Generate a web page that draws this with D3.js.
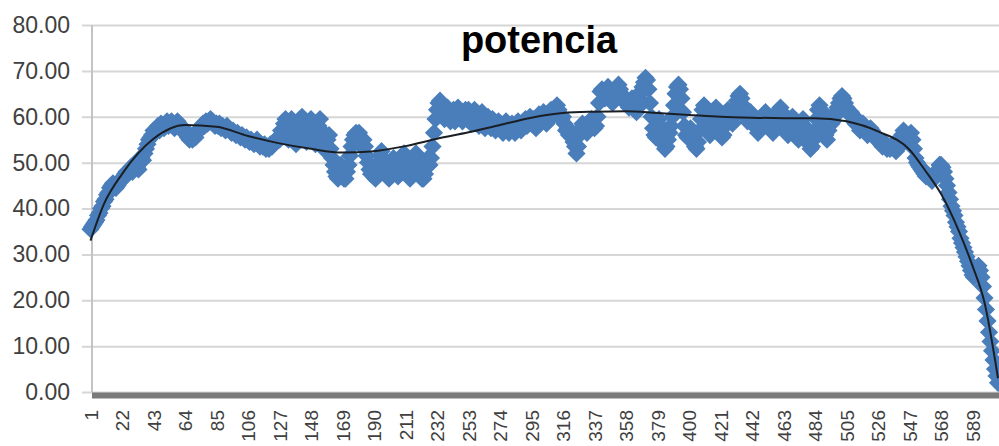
<!DOCTYPE html>
<html>
<head>
<meta charset="utf-8">
<script src="https://cdn.jsdelivr.net/npm/d3@7"></script>
<style>
  body { margin: 0; background: #fff; }
  svg { display: block; }
</style>
</head>
<body>
<div id="chart"></div>
<script>
// readings, one row per x label step (21 points)
const potencia = [
  35.5, 36, 36.5, 37, 37.5, 38.5, 39, 40, 40.5, 41.5, 42, 43, 43.5, 44.5, 45, 45.5, 45, 44.5, 45, 45.5, 46,
  46.5, 47, 47.5, 48, 47.5, 48.5, 49, 48, 49.5, 50, 49, 48.5, 50, 51, 50.5, 52, 53, 54, 55, 55.5, 56,
  57, 56.5, 57.5, 58, 57, 58.5, 58, 57.5, 58.5, 59, 58, 58.5, 59, 58, 57.5, 58.5, 59, 58.5, 58, 57, 57.5,
  56.5, 56, 55.5, 55, 55.5, 55, 56, 55.5, 56.5, 57, 57.5, 58, 58.5, 58, 59, 58.5, 59, 59.5, 59, 58.5, 58,
  58.5, 58, 58.5, 57.5, 58, 57.5, 57, 58, 57.5, 57, 56.5, 57, 56.5, 56, 56.5, 56, 55.5, 56, 55.5, 55, 55.5,
  55, 54.5, 55, 54.5, 54, 54.5, 55, 54, 53.5, 54, 53.5, 54, 53, 53.5, 53, 54, 53.5, 54, 54.5, 55, 55.5,
  55, 57, 56, 58.5, 59.5, 57, 55, 57.5, 59.5, 58, 55.5, 54, 56, 58, 59.5, 60, 58, 55.5, 54.5, 57, 59,
  59.5, 57, 55, 54, 55.5, 58, 59.5, 57, 54.5, 53, 52.5, 55, 56, 53, 51, 49.5, 48, 47, 46.5, 47.5, 49.5,
  48, 46.5, 46.5, 48, 49.5, 51.5, 53.5, 55, 56, 56.5, 55, 56.5, 55.5, 53.5, 55, 53.5, 51.5, 50, 48.5, 47.5, 48,
  47, 46.5, 48, 50, 51.5, 52.5, 51, 49.5, 48, 47, 46.5, 48, 49.5, 51, 50, 48.5, 47, 47.5, 49.5, 51, 52,
  50.5, 48.5, 47, 46.5, 48, 50, 51.5, 52, 50.5, 49, 47.5, 46.5, 46.5, 47.5, 49, 51, 49.5, 51, 53.5, 56.5, 59.5,
  61.5, 63, 63.5, 62, 60.5, 59.5, 61, 62, 60.5, 59, 61, 61.5, 59, 60, 62, 61, 59.5, 59, 61, 61.5, 59.5,
  61.5, 60.5, 58.5, 60, 61.5, 60.5, 58.5, 58, 60, 61, 59, 57.5, 59, 60, 58, 57.5, 59.5, 58.5, 57, 58, 59,
  58.5, 57, 56.5, 58, 59, 58, 56.5, 57, 58.5, 57.5, 56.5, 58, 59, 57.5, 57, 58.5, 59, 59.5, 58, 59.5, 60,
  58.5, 59.5, 58.5, 57.5, 59, 60.5, 59, 60, 61, 59.5, 58.5, 60, 61, 61.5, 60, 61, 62, 62.5, 61.5, 60.5, 59.5,
  60, 58.5, 57, 57.5, 56, 57, 55.5, 54.5, 53.5, 52, 53.5, 56, 57.5, 58.5, 57, 58, 56.5, 57.5, 59, 59.5, 58,
  57.5, 58, 60, 63, 65.5, 66, 65, 64, 65.5, 66.5, 65.5, 64, 63, 64.5, 65.5, 66.5, 67, 66, 65, 64, 63.5,
  63, 62.5, 62, 63, 64, 63.5, 62.5, 61, 62, 64, 65.5, 66.5, 67.5, 68.5, 68, 66, 63, 60, 57.5, 56, 55.5,
  57, 59.5, 58, 55.5, 54, 53, 53.5, 55, 56.5, 58, 60, 62.5, 65, 66.5, 67, 66, 64, 61, 58, 56, 55.5,
  56.5, 57.5, 56, 54.5, 53.5, 53, 54.5, 57, 59.5, 61.5, 62.5, 61, 59, 57.5, 56, 57.5, 59.5, 61.5, 62, 60.5, 58.5,
  57, 55.5, 56, 58, 60, 61.5, 61, 59.5, 58.5, 60, 62, 63.5, 64.5, 65, 64, 62.5, 61, 60, 59, 60, 61,
  60.5, 59.5, 58.5, 57.5, 56.5, 57, 58, 59.5, 60.5, 61, 60, 59, 58, 57, 56.5, 57.5, 59, 60.5, 61.5, 62, 61,
  60, 58.5, 57, 56, 57, 58.5, 60, 59, 57.5, 56, 55, 56.5, 58, 59.5, 58, 56.5, 55, 54, 53, 53.5, 55,
  57, 59.5, 61.5, 62.5, 61.5, 60, 58, 56, 55, 57, 59.5, 58.5, 59, 60, 61, 62, 63, 64, 64.5, 64, 63,
  62, 61, 60.5, 61, 60, 59, 58.5, 59.5, 58, 57, 57.5, 58.5, 58, 57, 56, 56.5, 57.5, 57, 56, 55.5, 55,
  55.5, 54.5, 54, 53.5, 54.5, 54, 53, 53.5, 53, 53.5, 54, 53, 52.5, 53, 54, 55, 56, 57, 56.5, 55.5, 54.5,
  55.5, 56.5, 55, 53, 51, 50, 49.5, 49, 48.5, 48, 47.5, 47, 47.5, 47, 46.5, 46, 46.5, 47, 47.5, 48.5, 49.5,
  49.5, 49, 48, 46.5, 45, 43.5, 42, 40.5, 39.5, 38.5, 37, 36, 35, 33.5, 32.5, 31.5, 30.5, 29.5, 28.5, 27.5, 26.5,
  25.5, 25, 26, 27, 27.5, 26.5, 25, 23, 20.5, 18, 15.5, 13, 11, 9, 7, 5, 3.5, 2
]
const categories = d3.range(1, potencia.length + 1)

const xTickLabels = [1, 22, 43, 64, 85, 106, 127, 148, 169, 190, 211, 232, 253, 274, 295,
  316, 337, 358, 379, 400, 421, 442, 463, 484, 505, 526, 547, 568, 589]
const yTicks = [0, 10, 20, 30, 40, 50, 60, 70, 80]

// polynomial trend line
const trendCats = [1, 10, 22, 43, 64, 85, 106, 127, 148, 169, 190, 211, 232, 253, 274, 295, 316,
  337, 358, 379, 400, 421, 442, 463, 484, 505, 526, 547, 557, 568, 580, 589, 597, 606]
const trendValues = [33, 41, 47.5, 55.2, 58.2, 57.8, 55.8, 54.2, 53, 52.2, 52.5, 53.6, 55.2, 56.6,
  58.2, 59.8, 60.8, 61.1, 61.2, 60.8, 60.4, 60, 59.8, 59.7, 59.7, 59, 56.8, 52.8, 48.5, 43.2, 35,
  27.5, 19.5, 3]

const width = 999
const height = 446
const plot = {left: 90.5, right: 998, top: 25, bottom: 392}
const axisX = 92

const svg = d3.select('#chart')
    .append('svg')
    .attr('width', width)
    .attr('height', height)
    .style('font-family', '"Liberation Sans", Arial, sans-serif')

svg.append('rect').attr('width', width).attr('height', height).attr('fill', '#fff')

const x = d3.scalePoint()
            .domain(categories)
            .range([plot.left, plot.right])

const y = d3.scaleLinear()
            .domain([0, 80])
            .range([plot.bottom, plot.top])

// gridlines
const grid = svg.append('g')
    .attr('transform', `translate(82, 0)`)
    .call(d3.axisLeft(y).tickValues(yTicks).tickSize(-(width - 82)).tickFormat(''))
grid.select('.domain').remove()
grid.selectAll('.tick line').attr('stroke', '#d6d6d6').attr('stroke-width', 2)

// y labels
const leftAxis = svg.append('g')
    .attr('transform', `translate(82, 0)`)
    .call(d3.axisLeft(y).tickValues(yTicks).tickSize(0).tickPadding(12).tickFormat(d3.format('.2f')))
leftAxis.select('.domain').remove()
leftAxis.selectAll('text')
    .attr('fill', '#404040')
    .style('font-size', '23px')

// vertical axis line
svg.append('line')
    .attr('x1', axisX).attr('x2', axisX)
    .attr('y1', y(80)).attr('y2', y(0))
    .attr('stroke', '#c4c4c4').attr('stroke-width', 2)

// thick floor under the plot
svg.append('rect')
    .attr('x', axisX).attr('y', y(0) + 0.5)
    .attr('width', width - axisX).attr('height', 6)
    .attr('fill', '#7a7a7a')

// x labels
const bottomAxis = svg.append('g')
    .attr('transform', `translate(0, ${y(0) + 6})`)
    .call(d3.axisBottom(x).tickValues(xTickLabels).tickSize(0))
bottomAxis.select('.domain').remove()
bottomAxis.selectAll('text')
    .attr('transform', 'rotate(-90)')
    .attr('x', -12)
    .attr('y', 0)
    .attr('dy', '0.35em')
    .style('text-anchor', 'end')
    .style('font-size', '19px')
    .attr('fill', '#404040')

// markers
svg.append('g')
    .selectAll('path')
    .data(potencia)
    .enter()
    .append('path')
    .attr('d', d3.symbol(d3.symbolSquare, 165))
    .attr('transform', (d, i) => `translate(${x(categories[i])}, ${y(d)}) rotate(45)`)
    .attr('fill', '#4a7ebb')

// trend line
const trend = trendCats.map((c, i) => ({c: c, v: trendValues[i]}))
svg.append('path')
    .datum(trend)
    .attr('fill', 'none')
    .attr('stroke', '#1a1f26')
    .attr('stroke-width', 2)
    .attr('d', d3.line().x(d => x(d.c)).y(d => y(d.v)).curve(d3.curveMonotoneX))

svg.append('text')
    .attr('x', 539)
    .attr('y', 53)
    .attr('text-anchor', 'middle')
    .style('font-size', '38px')
    .style('font-weight', 'bold')
    .attr('fill', '#000')
    .text('potencia')
</script>
</body>
</html>
